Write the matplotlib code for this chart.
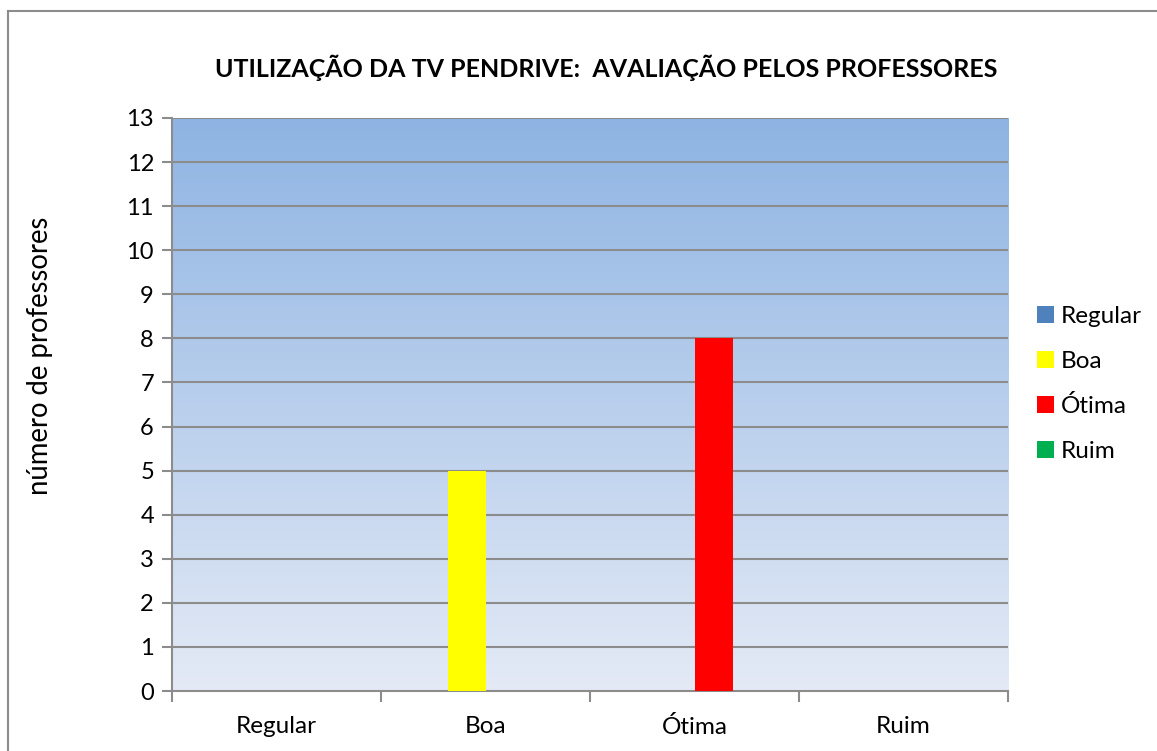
import matplotlib
matplotlib.use("Agg")
import matplotlib.pyplot as plt
import numpy as np
from matplotlib.colors import LinearSegmentedColormap
from matplotlib.patches import Patch
from matplotlib.lines import Line2D

categories = ["Regular", "Boa", "Ótima", "Ruim"]
series_names = ["Regular", "Boa", "Ótima", "Ruim"]
# each series has a value only in its own category
series_values = {
    "Regular": [0, 0, 0, 0],
    "Boa": [0, 5, 0, 0],
    "Ótima": [0, 0, 8, 0],
    "Ruim": [0, 0, 0, 0],
}
series_colors = ["#4F81BD", "#FFFF00", "#FF0000", "#00B050"]
yticks = list(range(0, 14))
title = "UTILIZAÇÃO DA TV PENDRIVE:  AVALIAÇÃO PELOS PROFESSORES"
ylabel = "número de professores"

plt.rcParams['font.family'] = ['Lato', 'DejaVu Sans']

W, H = 1157, 751
fig = plt.figure(figsize=(W / 100, H / 100), dpi=100)
ax = fig.add_axes([172 / W, 1 - 691 / H, (1008 - 172) / W, (691 - 118) / H])

# gradient background
cmap = LinearSegmentedColormap.from_list("bg", ["#E4EAF6", "#8EB4E3"])
grad = np.linspace(0, 1, 256).reshape(-1, 1)
ax.imshow(grad, aspect="auto", cmap=cmap, origin="lower",
          extent=[0, 4, 0, 13], zorder=0)

n = len(series_names)
gap = 1.5
w = 1.0 / (n + gap)
x = np.arange(len(categories))
for i, (name, col) in enumerate(zip(series_names, series_colors)):
    offs = x + (gap / 2) * w + i * w
    ax.bar(offs, series_values[name], width=w, align="edge", color=col,
           zorder=3, label=name)

ax.set_xlim(0, 4)
ax.set_ylim(0, 13)
ax.set_yticks(yticks)
ax.set_yticklabels([str(t) for t in yticks], fontsize=17)
for t in yticks[1:]:
    ax.axhline(t, color="#8C8C8C", lw=1.5, zorder=2)

ax.set_xticks([0, 1, 2, 3, 4])
ax.set_xticklabels([])
ax.set_xticks(x + 0.5, minor=True)
ax.set_xticklabels(categories, minor=True, fontsize=17.5)
ax.tick_params(axis="x", which="minor", length=0, pad=18)
ax.tick_params(axis="x", which="major", length=8, width=1.5, color="#8C8C8C", direction="out")
ax.tick_params(axis="y", length=7, width=1.5, color="#8C8C8C", direction="out", pad=6)

for s in ["top", "right"]:
    ax.spines[s].set_visible(False)
for s in ["left", "bottom"]:
    ax.spines[s].set_color("#8C8C8C")
    ax.spines[s].set_linewidth(1.5)

fig.text(40 / W, 1 - 356 / H, ylabel, fontsize=19.8, rotation=90,
         ha="center", va="center")

fig.text(606 / W, 1 - 68 / H, title, fontsize=18, fontweight="bold",
         ha="center", va="center")

handles = [Patch(facecolor=c, edgecolor="none") for c in series_colors]
fig.legend(handles, series_names, loc="center left",
           bbox_to_anchor=(1015 / W, 1 - 384 / H), frameon=False,
           fontsize=17.5, handlelength=0.7, handleheight=0.7,
           handletextpad=0.3, labelspacing=0.97)

# chart border (top and left visible)
fig.add_artist(Line2D([8 / W, 8 / W], [0, 1 - 11 / H], transform=fig.transFigure,
                      color="#8C8C8C", lw=1.5))
fig.add_artist(Line2D([8 / W, 1], [1 - 11 / H, 1 - 11 / H], transform=fig.transFigure,
                      color="#8C8C8C", lw=1.5))

fig.savefig("out.png", dpi=100, facecolor="white")
